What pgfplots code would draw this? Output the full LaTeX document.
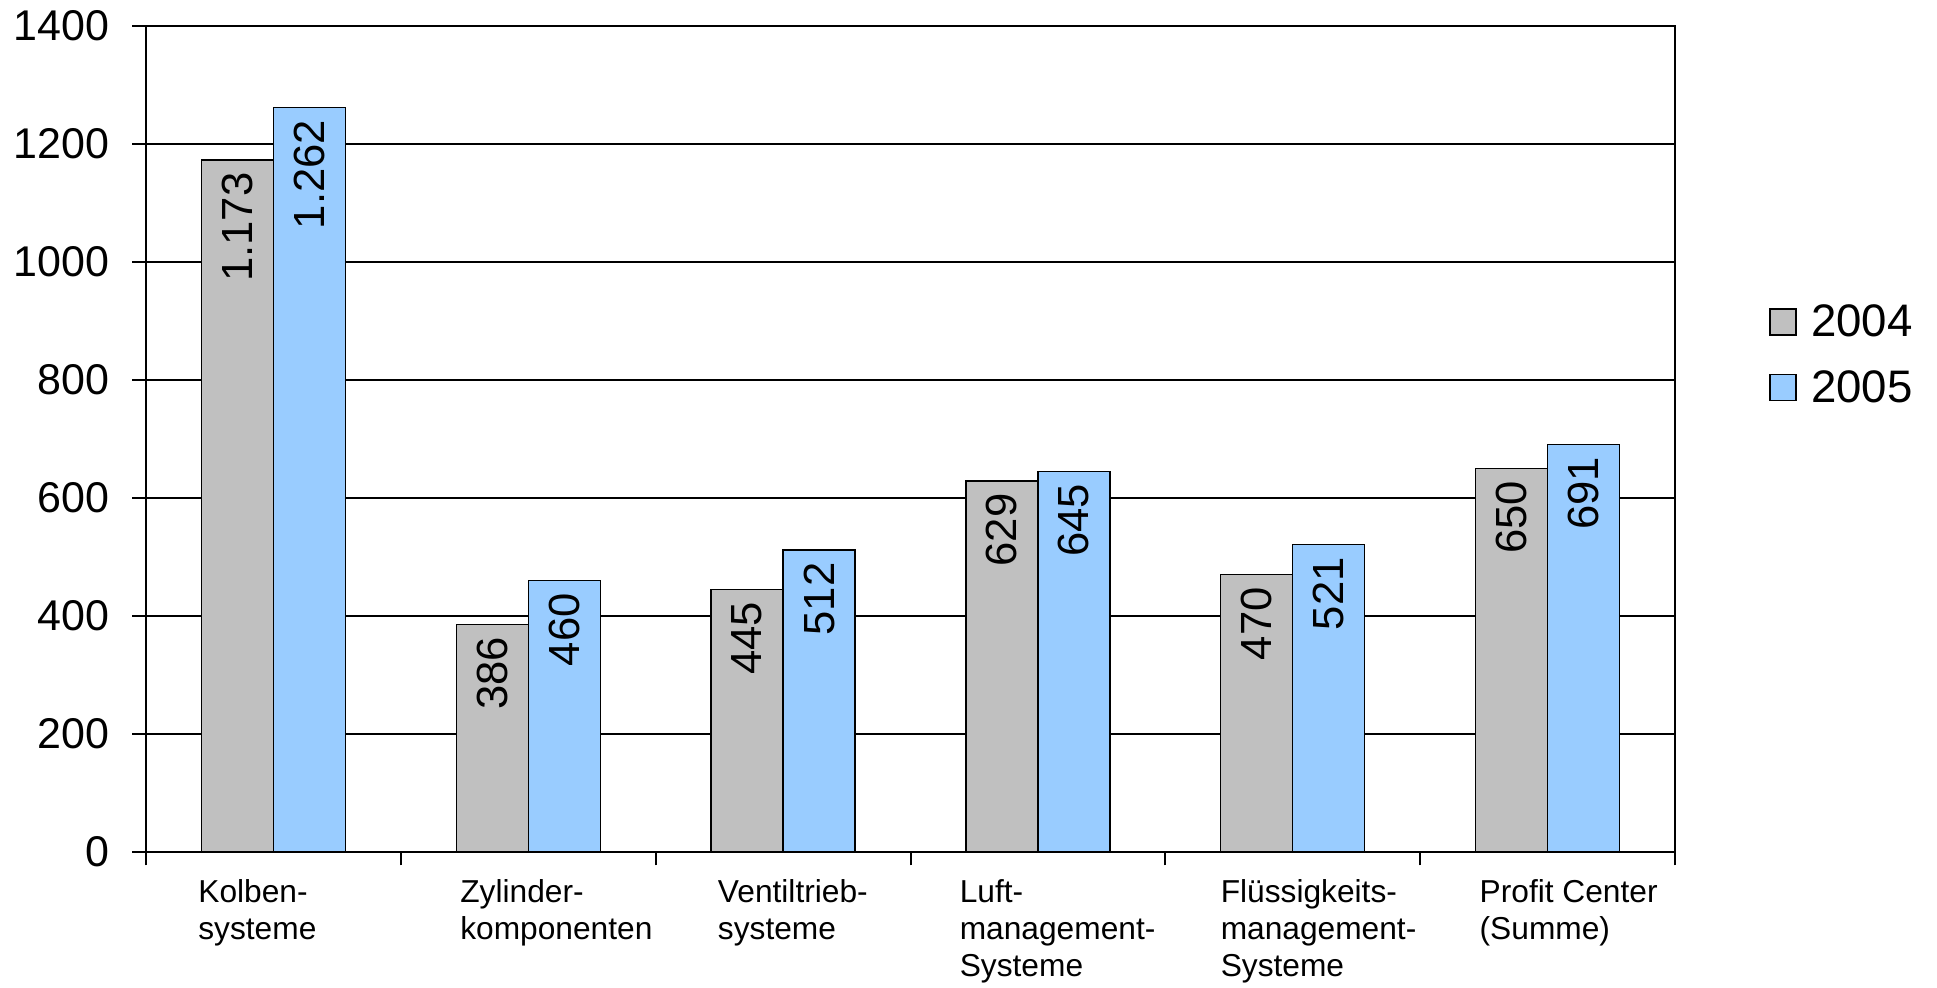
\documentclass[border=0pt]{standalone}
\usepackage{fontspec}
\setmainfont{Liberation Sans}
\usepackage{pgfplots}
\pgfplotsset{compat=1.18}
\definecolor{bargray}{HTML}{C0C0C0}
\definecolor{barblue}{HTML}{99CCFF}
\begin{document}
\begin{tikzpicture}
\useasboundingbox (-73pt,-68pt) rectangle (895.5pt,426pt);
\begin{axis}[
  at={(0,0)}, anchor=south west,
  scale only axis,
  width=764.5pt, height=413pt,
  ybar=0pt, bar width=36pt,
  xmin=-0.5, xmax=5.5,
  ymin=0, ymax=1400,
  ytick={0,200,...,1400},
  xtick={-0.296,0.732,1.743,2.692,3.716,4.732},
  xticklabels={{Kolben-\\systeme},{Zylinder-\\komponenten},{Ventiltrieb-\\systeme},{Luft-\\management-\\Systeme},{Flüssigkeits-\\management-\\Systeme},{Profit Center\\(Summe)}},
  xtick style={draw=none},
  extra x ticks={-0.5,0.5,1.5,2.5,3.5,4.5,5.5},
  extra x tick labels={},
  extra x tick style={xtick style={draw=black, line width=1pt}, grid=none},
  xtick pos=bottom, ytick pos=left,
  tick align=outside,
  major tick length=6.75pt,
  ytick style={line width=1pt, black},
  axis line style={line width=1pt, black},
  ymajorgrids,
  grid style={line width=1pt, black},
  /pgf/number format/assume math mode=true,
  yticklabel style={font=\fontsize{21.5}{25}\selectfont, inner sep=0pt, xshift=-11.5pt, /pgf/number format/1000 sep={}},
  xticklabel style={font=\fontsize{15.85}{18.5}\selectfont, align=left, anchor=north west, inner sep=0pt, yshift=-7pt},
  nodes near coords={\pgfmathprintnumber[1000 sep={.},assume math mode=true]{\pgfplotspointmeta}},
  every node near coord/.append style={rotate=90, anchor=east, inner sep=6pt, font=\fontsize{21.8}{26}\selectfont, black},
  legend style={draw=none, fill=none, at={(1,0.602)}, anchor=west, xshift=47pt, font=\fontsize{22.8}{27}\selectfont, row sep=11.5pt, inner sep=0pt, nodes={inner sep=2pt}, /tikz/every odd column/.append style={column sep=5pt}},
  legend cell align=left,
  legend image code/.code={\draw[#1, line width=0.8pt] (0pt,-6.5pt) rectangle (13pt,6.5pt);},
]
\addplot[fill=bargray, draw=black, line width=0.7pt] coordinates {(0,1173) (1,386) (2,445) (3,629) (4,470) (5,650)};
\addplot[fill=barblue, draw=black, line width=0.7pt] coordinates {(0,1262) (1,460) (2,512) (3,645) (4,521) (5,691)};
\legend{2004,2005}
\end{axis}
\end{tikzpicture}
\end{document}
